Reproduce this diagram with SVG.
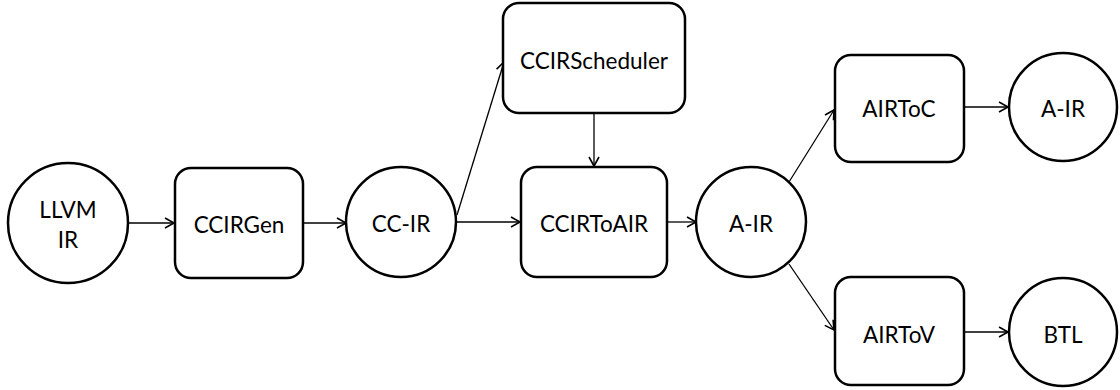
<svg xmlns="http://www.w3.org/2000/svg" width="1120" height="390" viewBox="0 0 1120 390">
<defs>
<marker id="arr" markerUnits="userSpaceOnUse" markerWidth="14" markerHeight="14" refX="10" refY="6" orient="auto">
<path d="M1,1 L10,6 L1,11" fill="none" stroke="#000" stroke-width="1.6"/>
</marker>
<style>
.n{fill:#fff;stroke:#000;stroke-width:2.5}
.t{font-family:Lato,"Liberation Sans",sans-serif;font-size:22.5px;fill:#000;text-anchor:middle}
.c{stroke:#000;stroke-width:1.3;fill:none;marker-end:url(#arr)}
</style>
</defs>
<rect width="1120" height="390" fill="#fff"/>
<g id="connectors">
<line class="c" x1="129" y1="223" x2="174" y2="223"/>
<line class="c" x1="303" y1="223" x2="346" y2="223"/>
<line class="c" x1="457" y1="222" x2="520" y2="222"/>
<line class="c" x1="457" y1="215" x2="504" y2="62"/>
<line class="c" x1="594" y1="113" x2="594" y2="166"/>
<line class="c" x1="667" y1="222" x2="696" y2="222"/>
<line class="c" x1="789" y1="182" x2="834" y2="110"/>
<line class="c" x1="789" y1="264" x2="834" y2="330"/>
<line class="c" x1="964" y1="107" x2="1008" y2="107"/>
<line class="c" x1="964" y1="332" x2="1008" y2="332"/>
</g>
<g id="llvm-ir"><circle class="n" cx="68" cy="223" r="60"/><text class="t" x="68" y="218">LLVM</text><text class="t" x="68" y="248">IR</text></g>
<g id="ccirgen"><rect class="n" x="175" y="168" width="128" height="110" rx="16"/><text class="t" x="239" y="233">CCIRGen</text></g>
<g id="cc-ir"><circle class="n" cx="401" cy="222" r="55"/><text class="t" x="401" y="232">CC-IR</text></g>
<g id="ccirscheduler"><rect class="n" x="503" y="3" width="182" height="110" rx="16"/><text class="t" x="594" y="69">CCIRScheduler</text></g>
<g id="ccirtoair"><rect class="n" x="521" y="167" width="146" height="110" rx="16"/><text class="t" x="594" y="232">CCIRToAIR</text></g>
<g id="a-ir-mid"><circle class="n" cx="751" cy="222" r="55"/><text class="t" x="751" y="232">A-IR</text></g>
<g id="airtoc"><rect class="n" x="835" y="55" width="129" height="107" rx="16"/><text class="t" x="899" y="117">AIRToC</text></g>
<g id="a-ir-top"><circle class="n" cx="1063" cy="107" r="54"/><text class="t" x="1063" y="117">A-IR</text></g>
<g id="airtov"><rect class="n" x="835" y="277" width="129" height="108" rx="16"/><text class="t" x="899" y="343">AIRToV</text></g>
<g id="btl"><circle class="n" cx="1063" cy="332" r="54"/><text class="t" x="1063" y="343">BTL</text></g>
</svg>
